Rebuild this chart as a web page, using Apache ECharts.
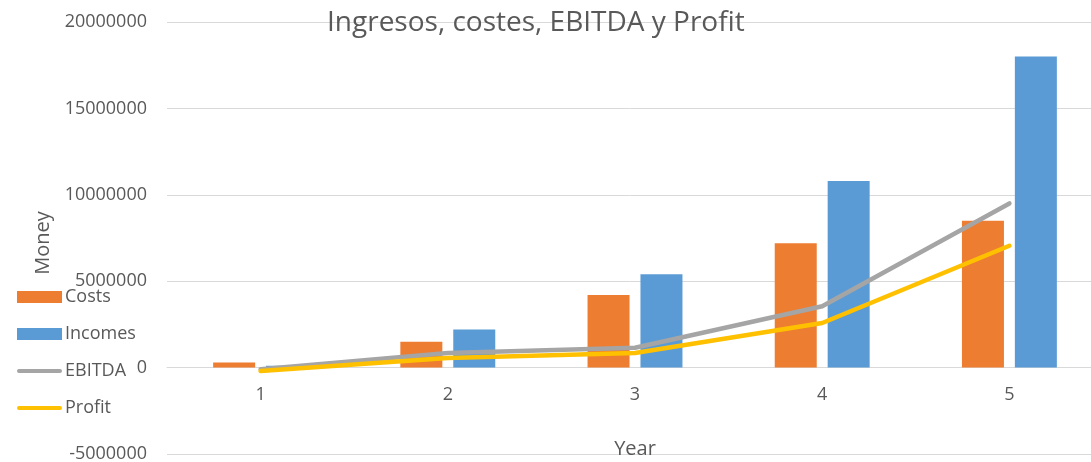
<!DOCTYPE html>
<html>
<head>
<meta charset="utf-8">
<script src="https://cdn.jsdelivr.net/npm/echarts@6/dist/echarts.min.js"></script>
<style>
  html, body { margin: 0; padding: 0; background: #fff; }
  #chart { width: 1091px; height: 462px; }
</style>
</head>
<body>
<div id="chart"></div>
<script>
var years = ['1', '2', '3', '4', '5'];
var costs = [300000, 1500000, 4200000, 7200000, 8500000];
var incomes = [100000, 2200000, 5400000, 10800000, 18000000];
var ebitda = [-100000, 850000, 1150000, 3550000, 9500000];
var profit = [-200000, 550000, 850000, 2580000, 7050000];

var textColor = '#595959';
var lineIcon = 'path://M2,0 L43,0 A2,2 0 0 1 43,4 L2,4 A2,2 0 0 1 2,0 Z';

var myChart = echarts.init(document.getElementById('chart'));

var option = {
    animation: false,
    textStyle: { fontFamily: 'Open Sans' },
    title: {
        text: 'Ingresos, costes, EBITDA y Profit',
        left: 322,
        top: 4,
        textStyle: { fontSize: 28, fontWeight: 'normal', color: textColor, fontFamily: 'Open Sans' }
    },
    legend: {
        orient: 'vertical',
        left: 12,
        top: 283,
        itemWidth: 45,
        itemHeight: 12,
        itemGap: 19,
        textStyle: { fontSize: 18, lineHeight: 18, color: textColor, padding: [0, 0, 0, -2] },
        data: [
            { name: 'Costs', icon: 'rect' },
            { name: 'Incomes', icon: 'rect' },
            { name: 'EBITDA', icon: lineIcon },
            { name: 'Profit', icon: lineIcon }
        ]
    },
    color: ['#ED7D31', '#5B9BD5', '#A5A5A5', '#FFC000'],
    grid: { left: 167, right: -12, top: 22, bottom: 8, containLabel: false, outerBoundsMode: 'none' },
    xAxis: {
        type: 'category',
        data: years,
        position: 'bottom',
        offset: -86.4,
        name: 'Year',
        nameLocation: 'middle',
        nameGap: 72,
        nameTextStyle: { fontSize: 20, color: textColor },
        axisTick: { show: false },
        axisLine: { onZero: false, lineStyle: { color: '#D9D9D9', width: 1 } },
        axisLabel: { color: textColor, fontSize: 18, margin: 18 }
    },
    yAxis: {
        type: 'value',
        min: -5000000,
        max: 20000000,
        interval: 5000000,
        name: 'Money',
        nameLocation: 'middle',
        nameRotate: 90,
        nameGap: 114,
        nameTextStyle: { fontSize: 20, color: textColor, padding: [0, 10, 0, 0] },
        axisLine: { show: false },
        axisTick: { show: false },
        axisLabel: { color: textColor, fontSize: 18, margin: 20, formatter: function (v) { return String(v); } },
        splitLine: { lineStyle: { color: '#D9D9D9', width: 1 } }
    },
    series: [
        { name: 'Costs', type: 'bar', data: costs, barWidth: 42, barGap: '26%' },
        { name: 'Incomes', type: 'bar', data: incomes, barWidth: 42, barGap: '26%' },
        { name: 'EBITDA', type: 'line', data: ebitda, symbol: 'none', lineStyle: { width: 4.5, cap: 'round', join: 'round' } },
        { name: 'Profit', type: 'line', data: profit, symbol: 'none', lineStyle: { width: 4.5, cap: 'round', join: 'round' } }
    ]
};

myChart.setOption(option);
</script>
</body>
</html>
